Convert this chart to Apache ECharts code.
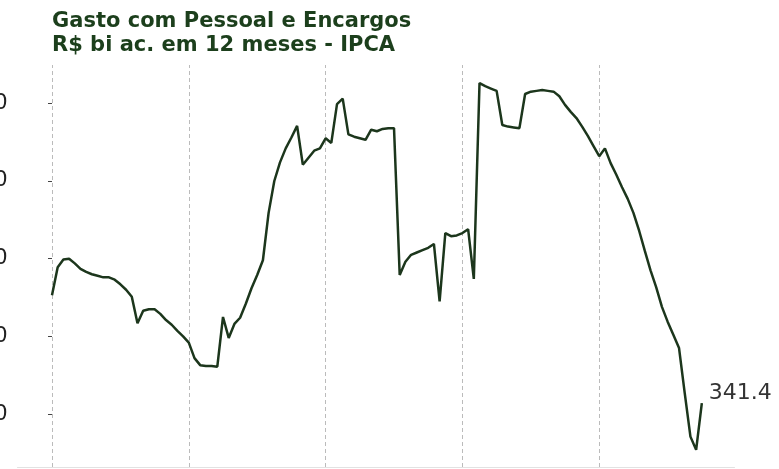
<!DOCTYPE html>
<html>
<head>
<meta charset="utf-8">
<script src="https://cdn.jsdelivr.net/npm/echarts@6/dist/echarts.min.js"></script>
<style>
html,body{margin:0;padding:0;background:#fff;overflow:hidden;}
#chart{width:779px;height:469px;}
</style>
</head>
<body>
<div id="chart"></div>
<script>
// Monthly values, R$ bi accumulated over 12 months (IPCA-deflated)
const values = [
 355.3,358.9,359.9,360.0,359.4,358.7,358.3,358.0,357.8,357.6,357.6,357.3,
 356.7,356.0,355.1,351.7,353.3,353.5,353.5,352.9,352.1,351.5,350.7,350.0,
 349.2,347.2,346.3,346.2,346.2,346.1,352.5,349.8,351.6,352.4,354.2,356.2,
 357.9,359.8,365.9,370.0,372.4,374.2,375.6,377.1,372.1,373.0,373.9,374.2,
 375.5,374.9,379.9,380.6,376.0,375.7,375.5,375.3,376.6,376.4,376.7,376.8,
 376.8,357.9,359.6,360.5,360.8,361.1,361.4,361.9,354.5,363.3,362.9,363.0,
 363.3,363.8,357.4,382.6,382.2,381.9,381.6,377.2,377.0,376.9,376.8,381.2,
 381.5,381.6,381.7,381.6,381.5,380.9,379.8,378.9,378.1,377.0,375.8,374.5,
 373.2,374.2,372.3,370.8,369.2,367.7,365.9,363.6,361.0,358.5,356.3,353.8,
 351.9,350.2,348.5,342.7,337.1,335.4,341.4
];
const yTicks = [340, 350, 360, 370, 380];
const gridMonths = [0, 24, 48, 72, 96];
const titleLines = ['Gasto com Pessoal e Encargos', 'R$ bi ac. em 12 meses - IPCA'];

const seriesData = values.map((v, i) => [i, v]);

const chart = echarts.init(document.getElementById('chart'), null, {renderer: 'canvas'});
chart.setOption({
  animation: false,
  backgroundColor: '#fff',
  title: {
    text: titleLines.join('\n'),
    left: 47, top: 5,
    textStyle: {
      fontFamily: 'DejaVu Sans', fontWeight: 'bold', fontSize: 21,
      color: '#1c3f1c', lineHeight: 24
    }
  },
  grid: {left: 17.5, right: 44.5, top: 65, bottom: 2, containLabel: false, outerBoundsMode: 'none'},
  xAxis: {
    type: 'value', min: -6.05, max: 119.73,
    axisLine: {show: true, lineStyle: {color: '#e2e2e2', width: 1}},
    axisTick: {show: false}, axisLabel: {show: false}, splitLine: {show: false}
  },
  yAxis: {
    type: 'value', min: 333.19, max: 384.93,
    axisLine: {show: false},
    axisTick: {show: true, length: 4, customValues: yTicks, lineStyle: {color: '#444', width: 1}},
    axisLabel: {
      show: true, customValues: yTicks, margin: 10,
      fontFamily: 'DejaVu Sans', fontSize: 21, color: '#222'
    },
    splitLine: {show: false}
  },
  series: [{
    type: 'line',
    data: seriesData,
    showSymbol: false,
    symbol: 'none',
    lineStyle: {color: '#1c361c', width: 2.5},
    z: 3,
    endLabel: {
      show: true,
      formatter: p => p.value[1].toFixed(1),
      distance: 7, offset: [0, -10],
      color: '#333', fontSize: 22, fontFamily: 'DejaVu Sans'
    },
    markLine: {
      silent: true, symbol: 'none',
      label: {show: false},
      lineStyle: {color: '#bbbbbb', type: [4, 3], width: 1},
      data: gridMonths.map(m => ({xAxis: m})),
      z: 1
    }
  }]
});
</script>
</body>
</html>
